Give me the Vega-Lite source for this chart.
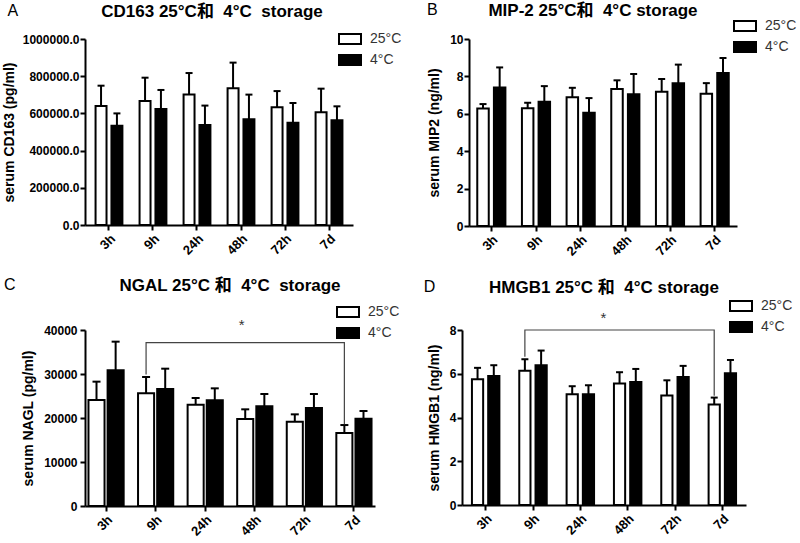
{
  "$schema": "https://vega.github.io/schema/vega-lite/v6.json",
  "padding": {"left": 2, "top": 2, "right": 0, "bottom": 0},
  "background": "white",
  "spacing": 18,
  "resolve": {"scale": {"fill": "independent", "x": "independent", "y": "independent", "xOffset": "independent"}, "legend": {"fill": "independent"}},
  "datasets": {
    "bars": [
      {"panel": "A", "time": "3h", "temp": "25°C", "mean": 640000, "upper": 749000},
      {"panel": "A", "time": "3h", "temp": "4°C", "mean": 534000, "upper": 600000},
      {"panel": "A", "time": "9h", "temp": "25°C", "mean": 667000, "upper": 792000},
      {"panel": "A", "time": "9h", "temp": "4°C", "mean": 624000, "upper": 726000},
      {"panel": "A", "time": "24h", "temp": "25°C", "mean": 702000, "upper": 817000},
      {"panel": "A", "time": "24h", "temp": "4°C", "mean": 538000, "upper": 642000},
      {"panel": "A", "time": "48h", "temp": "25°C", "mean": 735000, "upper": 873000},
      {"panel": "A", "time": "48h", "temp": "4°C", "mean": 568000, "upper": 701000},
      {"panel": "A", "time": "72h", "temp": "25°C", "mean": 633000, "upper": 720000},
      {"panel": "A", "time": "72h", "temp": "4°C", "mean": 550000, "upper": 656000},
      {"panel": "A", "time": "7d", "temp": "25°C", "mean": 606000, "upper": 733000},
      {"panel": "A", "time": "7d", "temp": "4°C", "mean": 563000, "upper": 638000},
      {"panel": "B", "time": "3h", "temp": "25°C", "mean": 6.29, "upper": 6.52},
      {"panel": "B", "time": "3h", "temp": "4°C", "mean": 7.41, "upper": 8.48},
      {"panel": "B", "time": "9h", "temp": "25°C", "mean": 6.30, "upper": 6.59},
      {"panel": "B", "time": "9h", "temp": "4°C", "mean": 6.64, "upper": 7.48},
      {"panel": "B", "time": "24h", "temp": "25°C", "mean": 6.89, "upper": 7.39},
      {"panel": "B", "time": "24h", "temp": "4°C", "mean": 6.05, "upper": 6.84},
      {"panel": "B", "time": "48h", "temp": "25°C", "mean": 7.32, "upper": 7.79},
      {"panel": "B", "time": "48h", "temp": "4°C", "mean": 7.04, "upper": 8.13},
      {"panel": "B", "time": "72h", "temp": "25°C", "mean": 7.18, "upper": 7.86},
      {"panel": "B", "time": "72h", "temp": "4°C", "mean": 7.64, "upper": 8.63},
      {"panel": "B", "time": "7d", "temp": "25°C", "mean": 7.07, "upper": 7.64},
      {"panel": "B", "time": "7d", "temp": "4°C", "mean": 8.18, "upper": 8.98},
      {"panel": "C", "time": "3h", "temp": "25°C", "mean": 24090, "upper": 28260},
      {"panel": "C", "time": "3h", "temp": "4°C", "mean": 30830, "upper": 37350},
      {"panel": "C", "time": "9h", "temp": "25°C", "mean": 25600, "upper": 29320},
      {"panel": "C", "time": "9h", "temp": "4°C", "mean": 26590, "upper": 31210},
      {"panel": "C", "time": "24h", "temp": "25°C", "mean": 23030, "upper": 24550},
      {"panel": "C", "time": "24h", "temp": "4°C", "mean": 24020, "upper": 26740},
      {"panel": "C", "time": "48h", "temp": "25°C", "mean": 19770, "upper": 21970},
      {"panel": "C", "time": "48h", "temp": "4°C", "mean": 22650, "upper": 25450},
      {"panel": "C", "time": "72h", "temp": "25°C", "mean": 19170, "upper": 20830},
      {"panel": "C", "time": "72h", "temp": "4°C", "mean": 22270, "upper": 25450},
      {"panel": "C", "time": "7d", "temp": "25°C", "mean": 16590, "upper": 18400},
      {"panel": "C", "time": "7d", "temp": "4°C", "mean": 19850, "upper": 21590},
      {"panel": "D", "time": "3h", "temp": "25°C", "mean": 5.75, "upper": 6.27},
      {"panel": "D", "time": "3h", "temp": "4°C", "mean": 5.90, "upper": 6.39},
      {"panel": "D", "time": "9h", "temp": "25°C", "mean": 6.14, "upper": 6.66},
      {"panel": "D", "time": "9h", "temp": "4°C", "mean": 6.39, "upper": 7.06},
      {"panel": "D", "time": "24h", "temp": "25°C", "mean": 5.06, "upper": 5.43},
      {"panel": "D", "time": "24h", "temp": "4°C", "mean": 5.06, "upper": 5.47},
      {"panel": "D", "time": "48h", "temp": "25°C", "mean": 5.55, "upper": 6.07},
      {"panel": "D", "time": "48h", "temp": "4°C", "mean": 5.62, "upper": 6.22},
      {"panel": "D", "time": "72h", "temp": "25°C", "mean": 5.01, "upper": 5.70},
      {"panel": "D", "time": "72h", "temp": "4°C", "mean": 5.85, "upper": 6.36},
      {"panel": "D", "time": "7d", "temp": "25°C", "mean": 4.59, "upper": 4.91},
      {"panel": "D", "time": "7d", "temp": "4°C", "mean": 6.02, "upper": 6.63}
    ],
    "bracket": [
      {"panel": "C", "time": "9h", "temp": "25°C", "value": 29900, "ord": 1},
      {"panel": "C", "time": "9h", "temp": "25°C", "value": 37110, "ord": 2},
      {"panel": "C", "time": "7d", "temp": "25°C", "value": 37110, "ord": 3},
      {"panel": "C", "time": "7d", "temp": "25°C", "value": 18560, "ord": 4},
      {"panel": "D", "time": "9h", "temp": "25°C", "value": 6.78, "ord": 1},
      {"panel": "D", "time": "9h", "temp": "25°C", "value": 8.0, "ord": 2},
      {"panel": "D", "time": "7d", "temp": "25°C", "value": 8.0, "ord": 3},
      {"panel": "D", "time": "7d", "temp": "25°C", "value": 5.0, "ord": 4}
    ],
    "stars": [
      {"panel": "C", "time": "24h", "temp": "4°C", "value": 39900, "label": "*"},
      {"panel": "D", "time": "24h", "temp": "4°C", "value": 8.3, "label": "*"}
    ]
  },
  "vconcat": [
    {
      "spacing": 24,
      "resolve": {"scale": {"fill": "independent", "x": "independent", "y": "independent", "xOffset": "independent"}, "legend": {"fill": "independent"}},
      "hconcat": [
        {
          "title": {"text": "A", "orient": "left", "angle": 0, "anchor": "end", "baseline": "top", "align": "left", "fontSize": 16, "fontWeight": "normal", "offset": -16},
          "resolve": {"scale": {"fill": "independent"}, "legend": {"fill": "independent"}},
          "vconcat": [
            {
              "title": {"text": "CD163 25°C和\u00a0 4°C\u00a0 storage", "offset": 6, "dx": -7},
              "width": 268, "height": 186,
              "data": {"name": "bars"},
              "transform": [{"filter": "datum.panel === 'A'"}],
              "encoding": {
                "x": {"field": "time", "type": "nominal", "sort": ["3h", "9h", "24h", "48h", "72h", "7d"], "scale": {"paddingInner": 0.39, "paddingOuter": 0.24}, "axis": {"title": null}},
                "xOffset": {"field": "temp", "type": "nominal", "sort": ["25°C", "4°C"], "scale": {"paddingInner": 0.31, "paddingOuter": 0}}
              },
              "layer": [
                {
                  "mark": {"type": "bar", "stroke": "black", "strokeWidth": 2},
                  "encoding": {
                    "y": {"field": "mean", "type": "quantitative", "stack": null, "scale": {"domain": [0, 1000000], "nice": false}, "axis": {"title": "serum CD163 (pg/ml)", "values": [0, 200000, 400000, 600000, 800000, 1000000], "tickCount": 10, "format": ".1f", "labelOverlap": false, "titlePadding": 6, "titleFontSize": 14, "labelPadding": 1}},
                    "fill": {"field": "temp", "type": "nominal", "scale": {"domain": ["25°C", "4°C"], "range": ["white", "black"]}, "legend": {"orient": "none", "legendX": 253, "legendY": -12}}
                  }
                },
                {"mark": {"type": "rule", "strokeWidth": 2, "color": "black"}, "encoding": {"y": {"field": "mean", "type": "quantitative"}, "y2": {"field": "upper"}}},
                {"mark": {"type": "tick", "thickness": 2, "size": 7, "color": "black", "opacity": 1}, "encoding": {"y": {"field": "upper", "type": "quantitative"}}}
              ]
            }
          ]
        },
        {
          "title": {"text": "B", "orient": "left", "angle": 0, "anchor": "end", "baseline": "top", "align": "left", "fontSize": 16, "fontWeight": "normal", "offset": -10},
          "resolve": {"scale": {"fill": "independent"}, "legend": {"fill": "independent"}},
          "vconcat": [
            {
              "title": {"text": "MIP-2 25°C和\u00a0 4°C storage", "offset": -6, "dx": -10},
              "width": 268, "height": 187,
              "data": {"name": "bars"},
              "transform": [{"filter": "datum.panel === 'B'"}],
              "encoding": {
                "x": {"field": "time", "type": "nominal", "sort": ["3h", "9h", "24h", "48h", "72h", "7d"], "scale": {"paddingInner": 0.37, "paddingOuter": 0.185}, "axis": {"title": null}},
                "xOffset": {"field": "temp", "type": "nominal", "sort": ["25°C", "4°C"], "scale": {"paddingInner": 0.31, "paddingOuter": 0}}
              },
              "layer": [
                {
                  "mark": {"type": "bar", "stroke": "black", "strokeWidth": 2},
                  "encoding": {
                    "y": {"field": "mean", "type": "quantitative", "stack": null, "scale": {"domain": [0, 10], "nice": false}, "axis": {"title": "serum MIP2 (ng/ml)", "values": [0, 2, 4, 6, 8, 10], "tickCount": 10, "format": "d", "labelOverlap": false, "titlePadding": 8, "titleFontSize": 14, "labelPadding": 1}},
                    "fill": {"field": "temp", "type": "nominal", "scale": {"domain": ["25°C", "4°C"], "range": ["white", "black"]}, "legend": {"orient": "none", "legendX": 264, "legendY": -25, "rowPadding": 0}}
                  }
                },
                {"mark": {"type": "rule", "strokeWidth": 2, "color": "black"}, "encoding": {"y": {"field": "mean", "type": "quantitative"}, "y2": {"field": "upper"}}},
                {"mark": {"type": "tick", "thickness": 2, "size": 7, "color": "black", "opacity": 1}, "encoding": {"y": {"field": "upper", "type": "quantitative"}}}
              ]
            }
          ]
        }
      ]
    },
    {
      "spacing": 23,
      "resolve": {"scale": {"fill": "independent", "x": "independent", "y": "independent", "xOffset": "independent"}, "legend": {"fill": "independent"}},
      "hconcat": [
        {
          "title": {"text": "C", "orient": "left", "angle": 0, "anchor": "end", "baseline": "top", "align": "left", "fontSize": 16, "fontWeight": "normal", "offset": 6},
          "resolve": {"scale": {"fill": "independent"}, "legend": {"fill": "independent"}},
          "vconcat": [
            {
              "title": {"text": "NGAL 25°C 和\u00a0 4°C\u00a0 storage", "offset": 5},
              "width": 290, "height": 176,
              "data": {"name": "bars"},
              "transform": [{"filter": "datum.panel === 'C'"}],
              "encoding": {
                "x": {"field": "time", "type": "nominal", "sort": ["3h", "9h", "24h", "48h", "72h", "7d"], "scale": {"paddingInner": 0.29, "paddingOuter": 0.07}, "axis": {"title": null}},
                "xOffset": {"field": "temp", "type": "nominal", "sort": ["25°C", "4°C"], "scale": {"paddingInner": 0.16, "paddingOuter": 0}}
              },
              "layer": [
                {
                  "mark": {"type": "bar", "stroke": "black", "strokeWidth": 2},
                  "encoding": {
                    "y": {"field": "mean", "type": "quantitative", "stack": null, "scale": {"domain": [0, 40000], "nice": false}, "axis": {"title": "serum NAGL (pg/ml)", "values": [0, 10000, 20000, 30000, 40000], "tickCount": 10, "format": "d", "labelOverlap": false, "titlePadding": 8, "titleFontSize": 14, "labelPadding": 3}},
                    "fill": {"field": "temp", "type": "nominal", "scale": {"domain": ["25°C", "4°C"], "range": ["white", "black"]}, "legend": {"orient": "none", "legendX": 251, "legendY": -30}}
                  }
                },
                {"mark": {"type": "rule", "strokeWidth": 2, "color": "black"}, "encoding": {"y": {"field": "mean", "type": "quantitative"}, "y2": {"field": "upper"}}},
                {"mark": {"type": "tick", "thickness": 2, "size": 8, "color": "black", "opacity": 1}, "encoding": {"y": {"field": "upper", "type": "quantitative"}}},
                {
                  "data": {"name": "bracket"},
                  "transform": [{"filter": "datum.panel === 'C'"}],
                  "mark": {"type": "line", "color": "#444", "strokeWidth": 1.2},
                  "encoding": {"y": {"field": "value", "type": "quantitative"}, "order": {"field": "ord", "type": "quantitative"}}
                },
                {
                  "data": {"name": "stars"},
                  "transform": [{"filter": "datum.panel === 'C'"}],
                  "mark": {"type": "text", "fontSize": 15, "color": "#333", "dx": 27, "baseline": "alphabetic"},
                  "encoding": {"y": {"field": "value", "type": "quantitative"}, "text": {"field": "label"}}
                }
              ]
            }
          ]
        },
        {
          "title": {"text": "D", "orient": "left", "angle": 0, "anchor": "end", "baseline": "top", "align": "left", "fontSize": 16, "fontWeight": "normal", "offset": -8},
          "resolve": {"scale": {"fill": "independent"}, "legend": {"fill": "independent"}},
          "vconcat": [
            {
              "title": {"text": "HMGB1 25°C 和\u00a0 4°C storage", "offset": -3},
              "width": 284, "height": 175,
              "data": {"name": "bars"},
              "transform": [{"filter": "datum.panel === 'D'"}],
              "encoding": {
                "x": {"field": "time", "type": "nominal", "sort": ["3h", "9h", "24h", "48h", "72h", "7d"], "scale": {"paddingInner": 0.42, "paddingOuter": 0.21}, "axis": {"title": null}},
                "xOffset": {"field": "temp", "type": "nominal", "sort": ["25°C", "4°C"], "scale": {"paddingInner": 0.31, "paddingOuter": 0}}
              },
              "layer": [
                {
                  "mark": {"type": "bar", "stroke": "black", "strokeWidth": 2},
                  "encoding": {
                    "y": {"field": "mean", "type": "quantitative", "stack": null, "scale": {"domain": [0, 8], "nice": false}, "axis": {"title": "serum HMGB1 (ng/ml)", "values": [0, 2, 4, 6, 8], "tickCount": 10, "format": "d", "labelOverlap": false, "titlePadding": 8, "titleFontSize": 14, "labelPadding": 1}},
                    "fill": {"field": "temp", "type": "nominal", "scale": {"domain": ["25°C", "4°C"], "range": ["white", "black"]}, "legend": {"orient": "none", "legendX": 267, "legendY": -36}}
                  }
                },
                {"mark": {"type": "rule", "strokeWidth": 2, "color": "black"}, "encoding": {"y": {"field": "mean", "type": "quantitative"}, "y2": {"field": "upper"}}},
                {"mark": {"type": "tick", "thickness": 2, "size": 7, "color": "black", "opacity": 1}, "encoding": {"y": {"field": "upper", "type": "quantitative"}}},
                {
                  "data": {"name": "bracket"},
                  "transform": [{"filter": "datum.panel === 'D'"}],
                  "mark": {"type": "line", "color": "#444", "strokeWidth": 1.2},
                  "encoding": {"y": {"field": "value", "type": "quantitative"}, "order": {"field": "ord", "type": "quantitative"}}
                },
                {
                  "data": {"name": "stars"},
                  "transform": [{"filter": "datum.panel === 'D'"}],
                  "mark": {"type": "text", "fontSize": 15, "color": "#333", "dx": 15, "baseline": "alphabetic"},
                  "encoding": {"y": {"field": "value", "type": "quantitative"}, "text": {"field": "label"}}
                }
              ]
            }
          ]
        }
      ]
    }
  ],
  "config": {
    "view": {"stroke": null},
    "font": "Liberation Sans, Noto Sans CJK SC",
    "axis": {"domainColor": "black", "domainWidth": 2, "tickColor": "black", "tickWidth": 2, "tickSize": 5, "labelColor": "black", "labelFont": "Liberation Sans", "labelFontWeight": "bold", "labelFontSize": 12, "labelOverlap": false, "titleColor": "black", "titleFont": "Liberation Sans", "titleFontWeight": "bold", "titleFontSize": 15, "grid": false},
    "axisX": {"labelAngle": -45, "labelPadding": 2, "labelFontSize": 13},
    "title": {"font": "Liberation Sans, Noto Sans CJK SC", "fontSize": 17, "fontWeight": "bold", "color": "black"},
    "legend": {"title": null, "symbolType": "M-1,-0.45H1V0.45H-1Z", "symbolSize": 484, "symbolStrokeColor": "black", "symbolStrokeWidth": 2, "labelFont": "Liberation Sans", "labelFontSize": 14, "labelColor": "#333", "labelOffset": 8, "rowPadding": -2, "padding": 0}
  }
}
